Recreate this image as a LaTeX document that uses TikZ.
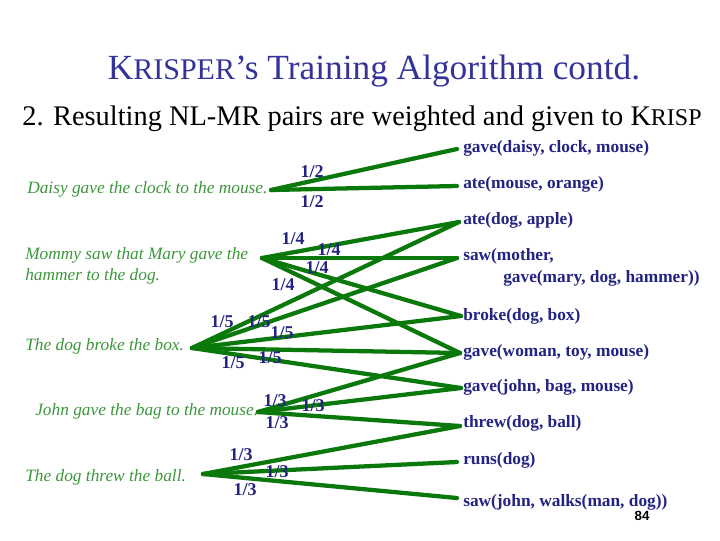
\documentclass[tikz,border=0pt]{standalone}
\usepackage{fontspec}
\setmainfont{Liberation Serif}
\setsansfont{Liberation Sans}
\definecolor{navy}{RGB}{35,35,130}
\definecolor{titleblue}{RGB}{51,51,153}
\definecolor{linegreen}{RGB}{10,120,10}
\definecolor{textgreen}{RGB}{60,150,60}
\begin{document}
\begin{tikzpicture}[x=0.75pt,y=-0.75pt,
  sent/.style={anchor=west,inner sep=0pt,text=textgreen,font=\fontsize{13}{15.75}\selectfont\itshape,align=left},
  mr/.style={anchor=west,inner sep=0pt,text=navy,font=\fontsize{13}{15}\selectfont\bfseries},
  wt/.style={inner sep=0pt,text=navy,font=\fontsize{13.5}{14}\selectfont\bfseries},
  link/.style={draw=linegreen,line width=3.2pt,line cap=round}]
\useasboundingbox (0,0) rectangle (720,540);
% titles
\node[inner sep=0pt,text=titleblue] (title) at (374,71)
  {\fontsize{26.5}{30}\selectfont K\fontsize{22.5}{30}\selectfont RISPER\fontsize{26.5}{30}\selectfont’s Training Algorithm contd.};
\node[inner sep=0pt] (sub) at (362,119)
  {\fontsize{21.3}{24}\selectfont 2. Resulting NL-MR pairs are weighted and given to K\fontsize{18}{24}\selectfont RISP};
% sentences
\node[sent] (s1) at (27,189) {Daisy gave the clock to the mouse.};
\node[sent] (s2) at (25,266) {Mommy saw that Mary gave the\\hammer to the dog.};
\node[sent] (s3) at (25,346) {The dog broke the box.};
\node[sent] (s4) at (35,411) {John gave the bag to the mouse.};
\node[sent] (s5) at (25,477) {The dog threw the ball.};
% MRs
\node[mr] (m1) at (463,148) {gave(daisy, clock, mouse)};
\node[mr] (m2) at (463,184) {ate(mouse, orange)};
\node[mr] (m3) at (463,220) {ate(dog, apple)};
\node[mr] (m4) at (463,256) {saw(mother,};
\node[mr] (m4b) at (503,278) {gave(mary, dog, hammer))};
\node[mr] (m5) at (463,316) {broke(dog, box)};
\node[mr] (m6) at (463,352) {gave(woman, toy, mouse)};
\node[mr] (m7) at (463,387) {gave(john, bag, mouse)};
\node[mr] (m8) at (463,423) {threw(dog, ball)};
\node[mr] (m9) at (463,460) {runs(dog)};
\node[mr] (m10) at (463,502) {saw(john, walks(man, dog))};
\node[inner sep=0pt,font=\sffamily\bfseries\fontsize{10}{12}\selectfont] (pg) at (642,516) {84};
% endpoints
\coordinate (L1) at (271,190);
\coordinate (L2) at (262,258);
\coordinate (L3) at (192,348);
\coordinate (L4) at (258,412);
\coordinate (L5) at (203,474);
\coordinate (R1) at (457,149);
\coordinate (R2) at (457,186);
\coordinate (R3) at (459,222);
\coordinate (R4) at (457,258);
\coordinate (R5) at (461,316);
\coordinate (R6) at (460,353);
\coordinate (R7) at (461,388);
\coordinate (R8) at (460,426);
\coordinate (R9) at (457,462);
\coordinate (R10) at (457,498);
% links
\draw[link] (L1) -- (R1); \draw[link] (L1) -- (R2);
\draw[link] (L2) -- (R3); \draw[link] (L2) -- (R4); \draw[link] (L2) -- (R5); \draw[link] (L2) -- (R6);
\draw[link] (L3) -- (R3); \draw[link] (L3) -- (R4); \draw[link] (L3) -- (R5); \draw[link] (L3) -- (R6); \draw[link] (L3) -- (R7);
\draw[link] (L4) -- (R6); \draw[link] (L4) -- (R7); \draw[link] (L4) -- (R8);
\draw[link] (L5) -- (R8); \draw[link] (L5) -- (R9); \draw[link] (L5) -- (R10);
% weights
\node[wt] (w11) at (312,172) {1/2};
\node[wt] (w12) at (312,202) {1/2};
\node[wt] (w21) at (293,239) {1/4};
\node[wt] (w22) at (329,250) {1/4};
\node[wt] (w23) at (317,268) {1/4};
\node[wt] (w24) at (283,285) {1/4};
\node[wt] (w31) at (222,322) {1/5};
\node[wt] (w32) at (259,322) {1/5};
\node[wt] (w33) at (282,333) {1/5};
\node[wt] (w34) at (233,363) {1/5};
\node[wt] (w35) at (270,358) {1/5};
\node[wt] (w41) at (275,401) {1/3};
\node[wt] (w42) at (313,406) {1/3};
\node[wt] (w43) at (277,423) {1/3};
\node[wt] (w51) at (241,455) {1/3};
\node[wt] (w52) at (277,472) {1/3};
\node[wt] (w53) at (245,490) {1/3};
\end{tikzpicture}
\end{document}
